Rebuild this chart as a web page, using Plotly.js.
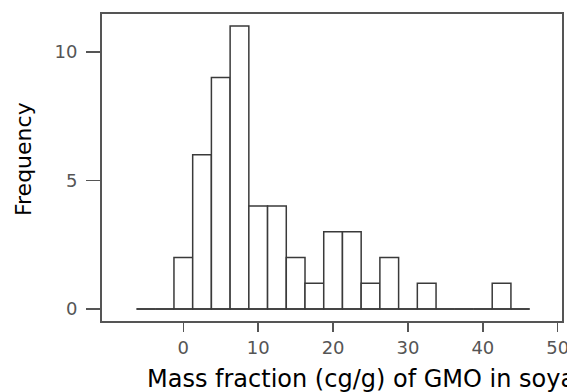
<!DOCTYPE html>
<html>
<head>
<meta charset="utf-8">
<script src="https://cdn.plot.ly/plotly-3.0.1.min.js"></script>
<style>
  html, body { margin: 0; padding: 0; background: #fff; }
  #chart { width: 567px; height: 392px; }
</style>
</head>
<body>
<div id="chart"></div>
<script>
// Bin centres (cg/g) and counts
const binCenters = [-5, -2.5, 0, 2.5, 5, 7.5, 10, 12.5, 15, 17.5, 20, 22.5, 25, 27.5, 30, 32.5, 35, 37.5, 40, 42.5, 45];
const counts     = [ 0,    0, 2,   6, 9,  11,  4,    4,  2,    1,  3,    3,  1,    2,  0,    1,  0,    0,  0,    1,  0];
const binWidth = 2.5;
const xTickVals = [0, 10, 20, 30, 40, 50];
const yTickVals = [0, 5, 10];
const xTitle = "Mass fraction (cg/g) of GMO in soya";
const yTitle = "Frequency";

const edgeStart = binCenters[0] - binWidth / 2;
const edgeEnd = binCenters[binCenters.length - 1] + binWidth / 2;

const bars = {
  type: "bar",
  x: binCenters,
  y: counts,
  width: binWidth,
  marker: { color: "#ffffff", line: { color: "#3a3a3a", width: 1.5 } },
  hoverinfo: "x+y"
};

const baseline = {
  type: "scatter",
  mode: "lines",
  x: [edgeStart, edgeEnd],
  y: [0, 0],
  line: { color: "#3a3a3a", width: 1.5 },
  hoverinfo: "skip"
};

const tickFont = { family: "DejaVu Sans", size: 18, color: "#555555" };

const layout = {
  width: 567,
  height: 392,
  margin: { l: 102, r: 5, t: 14, b: 71 },
  paper_bgcolor: "#ffffff",
  plot_bgcolor: "#ffffff",
  showlegend: false,
  bargap: 0,
  xaxis: {
    range: [-10.86, 50.57],
    tickmode: "array",
    tickvals: xTickVals,
    ticktext: xTickVals.map(String),
    ticks: "outside",
    ticklen: 9,
    tickwidth: 1.5,
    tickcolor: "#555555",
    tickfont: tickFont,
    ticklabeloverflow: "allow",
    showgrid: false,
    zeroline: false,
    showline: true,
    linecolor: "#555555",
    linewidth: 2,
    mirror: true
  },
  yaxis: {
    range: [-0.47, 11.47],
    tickmode: "array",
    tickvals: yTickVals,
    ticktext: yTickVals.map(String),
    ticks: "outside",
    ticklen: 14,
    tickwidth: 1.5,
    tickcolor: "#555555",
    tickfont: tickFont,
    ticklabelstandoff: 5,
    showgrid: false,
    zeroline: false,
    showline: true,
    linecolor: "#555555",
    linewidth: 2,
    mirror: true
  },
  annotations: [
    {
      text: xTitle,
      xref: "paper", yref: "paper",
      x: (145 - 102) / 460, y: (321 - 379) / 307,
      xanchor: "left", yanchor: "middle",
      showarrow: false,
      font: { family: "DejaVu Sans", size: 24, color: "#000000" }
    },
    {
      text: yTitle,
      xref: "paper", yref: "paper",
      x: (23 - 102) / 460, y: (321 - 159) / 307,
      xanchor: "center", yanchor: "middle",
      textangle: -90,
      showarrow: false,
      font: { family: "DejaVu Sans", size: 22, color: "#000000" }
    }
  ]
};

Plotly.newPlot("chart", [bars, baseline], layout, { displayModeBar: false, staticPlot: true });
</script>
</body>
</html>
